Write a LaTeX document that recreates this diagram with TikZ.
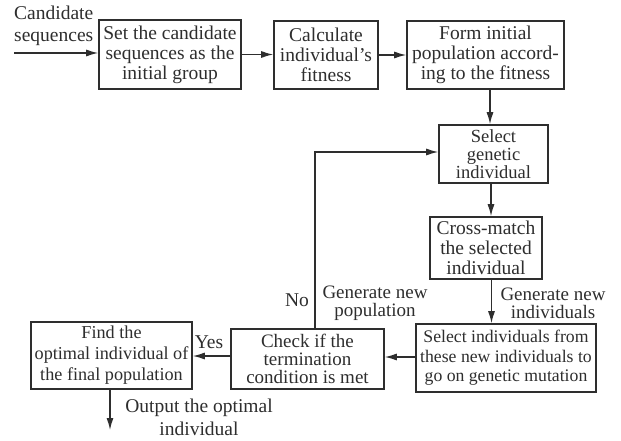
\documentclass[tikz,border=0pt]{standalone}
\usepackage{fontspec}
\setmainfont{Liberation Serif}
\usetikzlibrary{arrows.meta}
\definecolor{ink}{HTML}{2E2E2E}
\tikzset{
  box/.style={draw=ink, line width=1.6pt, inner sep=1pt, align=center, text=ink,
    font=\fontsize{19.5}{20}\selectfont},
  lbl/.style={inner sep=0pt, align=center, text=ink, font=\fontsize{19.5}{20}\selectfont},
  arr/.style={draw=ink, line width=1.3pt, -{Latex[length=12pt,width=7pt]}},
  ln/.style={draw=ink, line width=1.3pt}
}
\begin{document}
\begin{tikzpicture}[x=1pt,y=-1pt]
\useasboundingbox (0,0) rectangle (621,441);
\fill[white] (0,0) rectangle (621,441);

\node[box, minimum width=142pt, minimum height=69pt] (b1) at (170,54.5)
  {Set the candidate\\sequences as the\\initial group};
\node[box, minimum width=104pt, minimum height=68pt] (b2) at (326,55)
  {Calculate\\individual's\\fitness};
\node[box, minimum width=157pt, minimum height=68pt] (b3) at (485.5,55)
  {Form initial\\population accord-\\ing to the fitness};
\node[box, minimum width=109pt, minimum height=58pt, inner sep=0pt, font=\fontsize{18.5}{18}\selectfont] (b4) at (493.5,154)
  {Select\\genetic\\individual};
\node[box, minimum width=112pt, minimum height=62pt] (b5) at (486,248)
  {Cross-match\\the selected\\individual};
\node[box, minimum width=180pt, minimum height=68pt, font=\fontsize{17.7}{19.5}\selectfont] (b6) at (506,358)
  {Select individuals from\\these new individuals to\\go on genetic mutation};
\node[box, minimum width=153pt, minimum height=60pt, inner sep=0pt, font=\fontsize{19}{18}\selectfont] (b7) at (307.5,359)
  {Check if the\\termination\\condition is met};
\node[box, minimum width=161pt, minimum height=67pt, font=\fontsize{18.2}{21}\selectfont] (b8) at (111.5,355.5)
  {Find the\\optimal individual of\\the final population};

% labels
\node[lbl, align=left, anchor=west, font=\fontsize{19.5}{22}\selectfont] (lin) at (14,26) {Candidate\\sequences};
\node[lbl] (lno) at (297,300) {No};
\node[lbl, font=\fontsize{19}{18}\selectfont] (lgp) at (375,303) {Generate new\\population};
\node[lbl, font=\fontsize{19}{18}\selectfont] (lgi) at (553,303) {Generate new\\individuals};
\node[lbl] (lyes) at (209,342) {Yes};
\node[lbl, font=\fontsize{19.5}{23}\selectfont] (lout) at (199,417) {Output the optimal\\individual};

% free ends
\coordinate (in) at (14,53);
\coordinate (out) at (110,430);
\coordinate (fb) at (315,152);

% connectors
\draw[arr] (in) -- (in -| b1.west);
\draw[arr] (b1.east) -- (b1.east -| b2.west);
\draw[arr] (b2.east) -- (b2.east -| b3.west);
\draw[arr] ([xshift=4.5pt]b3.south) -- ([xshift=4.5pt]b3.south |- b4.north);
\draw[arr] ([xshift=-2.5pt]b4.south) -- ([xshift=-2.5pt]b4.south |- b5.north);
\draw[arr] ([xshift=5.5pt]b5.south) -- ([xshift=5.5pt]b5.south |- b6.north);
\draw[arr] ([yshift=1pt]b6.west) -- ([yshift=1pt]b6.west -| b7.east);
\draw[arr] ([yshift=3pt]b7.west) -- ([yshift=3pt]b7.west -| b8.east);
\draw[arr] (b7.north -| fb) -- (fb) -- (fb -| b4.west);
\draw[arr] (b8.south -| out) -- (out);
\end{tikzpicture}
\end{document}
